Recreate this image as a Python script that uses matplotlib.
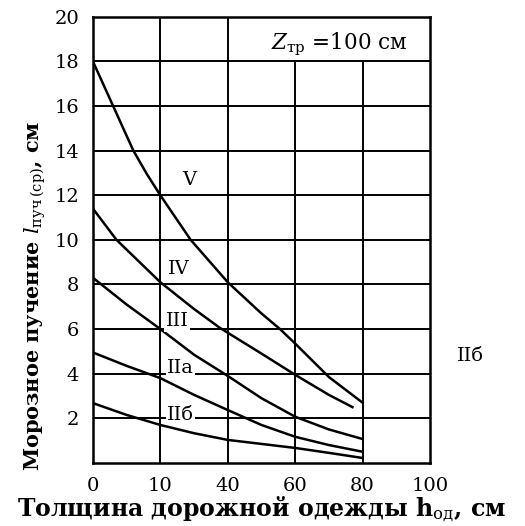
import matplotlib
matplotlib.use("Agg")
import matplotlib.pyplot as plt

plt.rcParams['mathtext.fontset'] = 'custom'
plt.rcParams['mathtext.rm'] = 'DejaVu Serif'
plt.rcParams['mathtext.it'] = 'DejaVu Serif:italic'
plt.rcParams['mathtext.bf'] = 'DejaVu Serif:bold'

# Data
x_V = [0, 6, 12, 16, 20, 29, 40, 50, 55.5, 60, 70, 80]
y_V = [18, 16, 14, 12.95, 12, 10, 8.1, 6.7, 6.0, 5.35, 3.85, 2.7]

x_IV = [0, 7, 20, 30, 37.7, 50, 60, 70, 77]
y_IV = [11.4, 10, 8.1, 6.9, 6.05, 4.9, 3.95, 3.05, 2.5]

x_III = [0, 10, 20, 30, 40, 50, 60, 70, 80]
y_III = [8.3, 7.1, 6.0, 4.85, 3.9, 2.9, 2.07, 1.5, 1.07]

x_IIa = [0, 10, 20, 30, 40, 50, 60, 70, 80]
y_IIa = [4.95, 4.35, 3.8, 3.05, 2.37, 1.7, 1.17, 0.8, 0.5]

x_IIb = [0, 10, 20, 30, 40, 50, 60, 70, 80]
y_IIb = [2.68, 2.15, 1.7, 1.33, 1.03, 0.85, 0.67, 0.45, 0.22]

xticks = [0, 20, 40, 60, 80, 100]
xticklabels = ["0", "10", "40", "60", "80", "100"]
yticks = [2, 4, 6, 8, 10, 12, 14, 16, 18, 20]
yticklabels = ["2", "4", "6", "8", "10", "12", "14", "16", "18", "20"]

fig = plt.figure(figsize=(5.25, 5.26), dpi=100)
ax = fig.add_axes([0.177, 0.120, 0.642, 0.848])
ax.set_xlim(0, 100)
ax.set_ylim(0, 20)

# grid
for yv in yticks[:-1]:
    ax.axhline(yv, color='black', lw=1.4, zorder=1)
for xv in [20, 40]:
    ax.axvline(xv, color='black', lw=1.4, zorder=1)
for xv in [60, 80]:
    ax.axvline(xv, ymin=0, ymax=18/20, color='black', lw=1.4, zorder=1)

for xs, ys in [(x_V, y_V), (x_IV, y_IV), (x_III, y_III), (x_IIa, y_IIa), (x_IIb, y_IIb)]:
    ax.plot(xs, ys, color='black', lw=1.8, zorder=3)

for s in ax.spines.values():
    s.set_linewidth(1.8)

ax.set_xticks(xticks)
ax.set_xticklabels(xticklabels)
ax.set_yticks(yticks)
ax.set_yticklabels(yticklabels)
ax.tick_params(length=0, pad=10, labelsize=14)
for lab in ax.get_xticklabels() + ax.get_yticklabels():
    lab.set_family('DejaVu Serif')

lbl = dict(fontsize=14, family='DejaVu Serif', color='black', zorder=4,
           ha='center', va='center',
           bbox=dict(facecolor='white', edgecolor='none', pad=1))
ax.text(28.5, 12.7, "V", **lbl)
ax.text(25.5, 8.7, "IV", **lbl)
ax.text(25, 6.35, "III", **lbl)
ax.text(26, 4.25, "IIa", **lbl)
ax.text(26, 2.15, "IIб", **lbl)
ax.text(112, 4.8, "IIб", fontsize=14, family='DejaVu Serif', ha='center', va='center',
        clip_on=False)
ax.text(73, 18.75, r"$Z_{\mathrm{тр}}$ =100 см", fontsize=15.5, family='DejaVu Serif',
        ha='center', va='center', zorder=4)

ax.set_xlabel(r"Толщина дорожной одежды h$_{\mathrm{од}}$, см", fontsize=17,
              family='DejaVu Serif', fontweight='bold', labelpad=0)
ax.set_ylabel(r"Морозное пучение $l_{\mathrm{пуч\,(ср)}}$, см", fontsize=15,
              family='DejaVu Serif', fontweight='bold')
ax.yaxis.set_label_coords(-0.134, 0.375)

fig.savefig("out.png", dpi=100)
